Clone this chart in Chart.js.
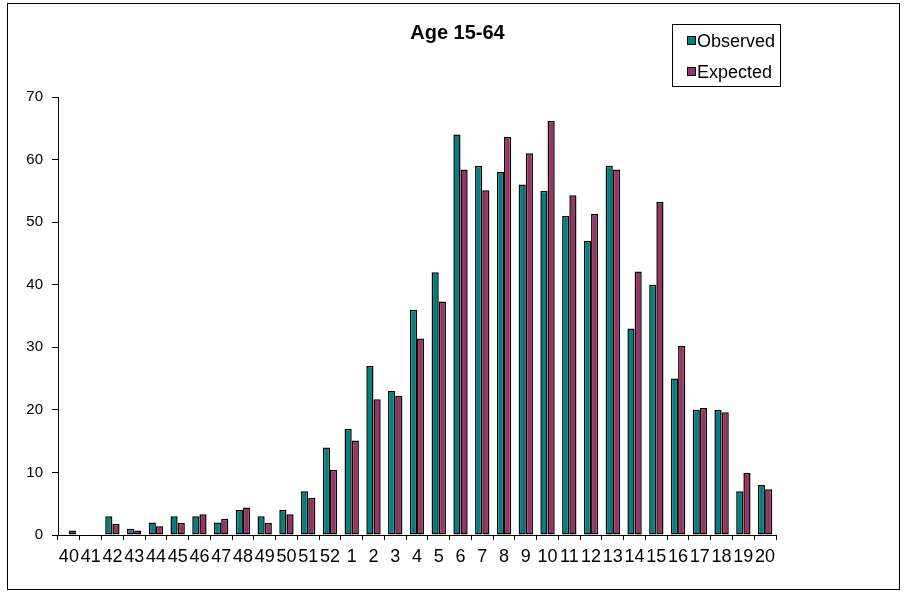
<!DOCTYPE html>
<html>
<head>
<meta charset="utf-8">
<script src="https://cdn.jsdelivr.net/npm/chart.js@4/dist/chart.umd.min.js"></script>
<style>
  html, body { margin: 0; padding: 0; background: #fff; }
  #wrap { position: relative; width: 907px; height: 594px; }
</style>
</head>
<body>
<div id="wrap"><canvas id="c" width="907" height="594"></canvas></div>
<script>
// Age groups / time bins along the x axis
const categories = ['40','41','42','43','44','45','46','47','48','49','50','51','52',
  '1','2','3','4','5','6','7','8','9','10','11','12','13','14','15','16','17','18','19','20'];

// Observed counts per bin
const observed = [0,0,3,1,2,3,3,2,4,3,4,7,14,
  17,27,23,36,42,64,59,58,56,55,51,47,59,33,40,25,20,20,7,8];

// Expected counts per bin
const expected = [0.7,0,1.8,0.7,1.4,1.9,3.3,2.6,4.4,1.9,3.3,5.9,10.4,
  15.1,21.7,22.2,31.4,37.3,58.4,55.1,63.6,61,66.2,54.3,51.3,58.4,42.1,53.2,30.2,20.3,19.6,9.9,7.3];

const yTicks = [0, 10, 20, 30, 40, 50, 60, 70];

const FONT = "'Liberation Sans', Arial, Helvetica, sans-serif";
const TEAL = '#008080';
const PLUM = '#993366';

// White page with a thin frame around the whole chart
const framePlugin = {
  id: 'frame',
  beforeDraw(chart) {
    const ctx = chart.ctx;
    ctx.save();
    ctx.fillStyle = '#ffffff';
    ctx.fillRect(0, 0, chart.width, chart.height);
    ctx.strokeStyle = '#000000';
    ctx.lineWidth = 1;
    ctx.strokeRect(7.5, 3.5, 892, 586);
    ctx.restore();
  }
};

// Boxed legend in the upper right, stacked vertically
const boxLegendPlugin = {
  id: 'boxLegend',
  afterDraw(chart) {
    const ctx = chart.ctx;
    ctx.save();
    ctx.strokeStyle = '#000';
    ctx.lineWidth = 1;
    ctx.strokeRect(672.5, 24.5, 108, 62);
    ctx.font = '18px ' + FONT;
    ctx.textBaseline = 'middle';
    ctx.textAlign = 'left';
    const rows = [41, 72];
    chart.data.datasets.forEach((ds, i) => {
      const cy = rows[i];
      ctx.fillStyle = ds.backgroundColor;
      ctx.fillRect(687.5, cy - 4.5, 8, 8);
      ctx.strokeStyle = '#000';
      ctx.strokeRect(687.5, cy - 4.5, 8, 8);
      ctx.fillStyle = '#000';
      ctx.fillText(ds.label, 697, cy + 1);
    });
    ctx.restore();
  }
};

new Chart(document.getElementById('c'), {
  type: 'bar',
  data: {
    labels: categories,
    datasets: [
      { label: 'Observed', data: observed, backgroundColor: TEAL, borderColor: '#000', borderWidth: 1.5,
        borderSkipped: false, categoryPercentage: 0.66, barPercentage: 1.0 },
      { label: 'Expected', data: expected, backgroundColor: PLUM, borderColor: '#000', borderWidth: 1.5,
        borderSkipped: false, categoryPercentage: 0.66, barPercentage: 1.0 }
    ]
  },
  options: {
    responsive: false,
    animation: false,
    devicePixelRatio: 1,
    layout: { padding: { left: 8, right: 0, top: 0, bottom: 0 } },
    plugins: {
      legend: { display: false },
      tooltip: { enabled: false },
      title: {
        display: true,
        text: 'Age 15-64',
        color: '#000',
        font: { family: FONT, size: 20, weight: 'bold' },
        padding: { top: 21, bottom: 52 }
      }
    },
    scales: {
      x: {
        offset: true,
        grid: { display: true, offset: true, drawOnChartArea: false, drawTicks: true, tickLength: 5, color: '#000' },
        border: { display: true, color: '#000', width: 1 },
        ticks: {
          color: '#000', font: { family: FONT, size: 18 }, padding: 6,
          autoSkip: false, maxRotation: 0, minRotation: 0
        },
        afterFit(scale) { scale.height = 59; }
      },
      y: {
        min: 0, max: 70,
        afterBuildTicks(scale) { scale.ticks = yTicks.map(v => ({ value: v })); },
        grid: { display: true, drawOnChartArea: false, drawTicks: true, tickLength: 6, color: '#000' },
        border: { display: true, color: '#000', width: 1 },
        ticks: { color: '#000', font: { family: FONT, size: 15 }, padding: 9 },
        afterFit(scale) { scale.width = 50; }
      },
      spacer: {
        type: 'linear', position: 'right', display: true,
        grid: { display: false }, border: { display: false }, ticks: { display: false },
        afterFit(scale) { scale.width = 131; }
      }
    }
  },
  plugins: [framePlugin, boxLegendPlugin]
});
</script>
</body>
</html>
